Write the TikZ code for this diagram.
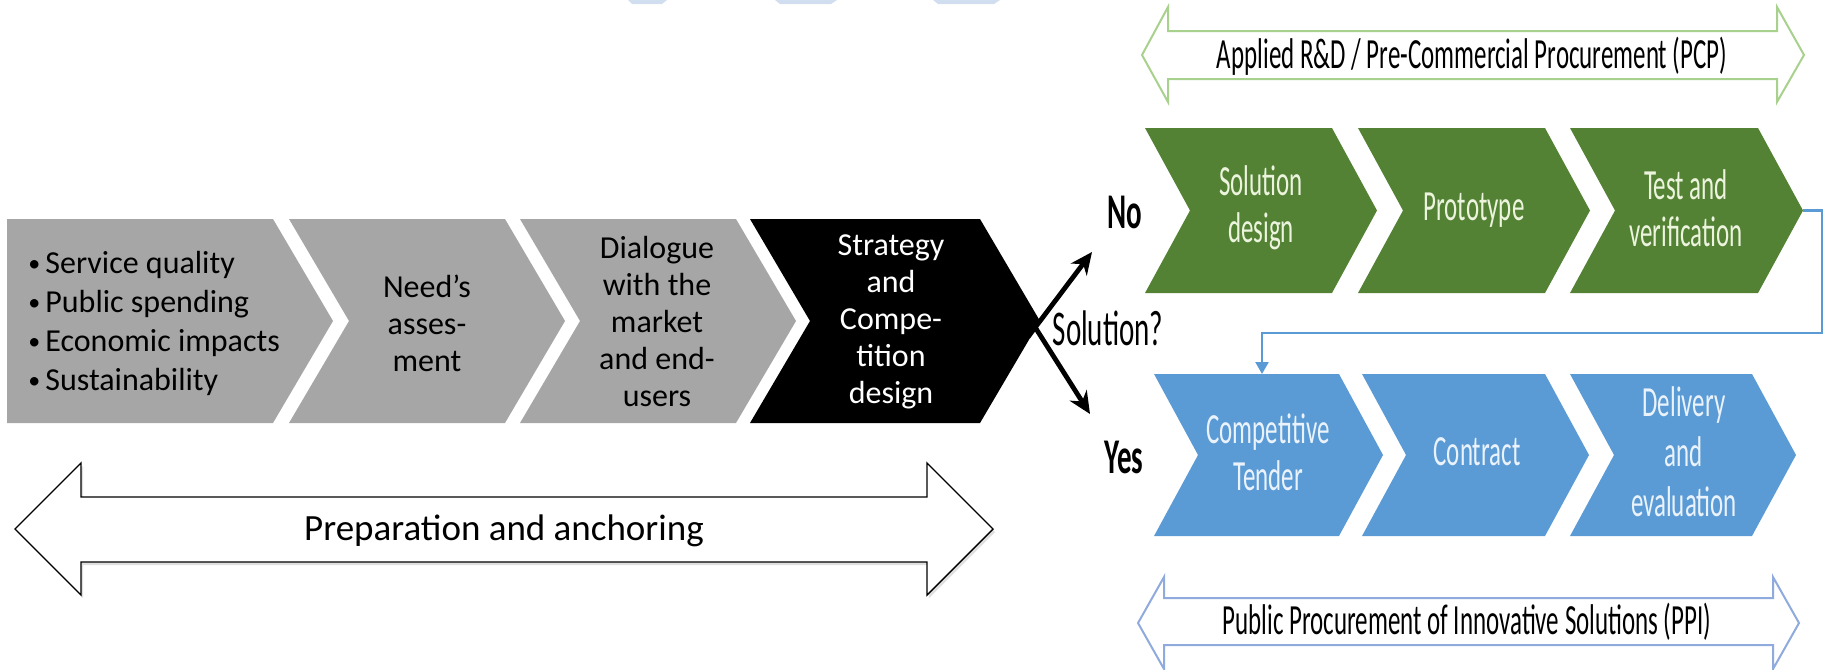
\documentclass[tikz,border=0pt]{standalone}
\usepackage{fontspec}
\setmainfont{Carlito}
\newfontfamily\narrowfont[FakeStretch=0.58]{Carlito}
\usepackage{tikz}
\usetikzlibrary{arrows.meta, shadows}

\definecolor{chevgrey}{RGB}{166,166,166}
\definecolor{pcpgreen}{RGB}{84,130,53}
\definecolor{ppiblue}{RGB}{91,155,213}
\definecolor{pcpline}{RGB}{169,209,142}
\definecolor{ppiline}{RGB}{143,170,220}
\definecolor{greentext}{RGB}{236,244,222}
\definecolor{bluetext}{RGB}{234,242,251}
\definecolor{topmark}{RGB}{208,222,239}

\newcommand{\listdot}{\makebox[8.5pt][l]{\raisebox{1pt}{\fontsize{12}{12}\selectfont\textbullet}}}

\begin{document}
\begin{tikzpicture}[x=.5pt, y=-.5pt,
  lefttext/.style={align=center, inner sep=0pt, font=\fontsize{16}{18.5}\selectfont},
  righttext/.style={align=center, inner sep=0pt, font=\narrowfont\fontsize{21.5}{23.5}\selectfont},
  answer/.style={inner sep=0pt, font=\narrowfont\bfseries\fontsize{25}{28}\selectfont},
  banner/.style={fill=white, line join=miter},
  decision/.style={line width=2.4pt, -{Stealth[length=11pt, width=10pt]}}]
\useasboundingbox (0,0) rectangle (1825,669);

\fill[topmark] (628,0) -- (667,0) -- (662,4) -- (632,4) -- cycle;
\fill[topmark] (775,0) -- (837,0) -- (831,4) -- (780,4) -- cycle;
\fill[topmark] (933,0) -- (1000,0) -- (994,4) -- (938,4) -- cycle;

\fill[chevgrey] (7,219) -- (273,219) -- (333,321) -- (273,423) -- (7,423) -- cycle;
\foreach \l/\r/\c in {289/505/chevgrey, 520/736/chevgrey, 750/980/black}
  \fill[\c] (\l,219) -- (\r,219) -- ({\r+60},321) -- (\r,423) -- (\l,423) -- ({\l+60},321) -- cycle;

\foreach \l/\r in {1145/1332, 1358/1545, 1570/1758}
  \fill[pcpgreen] (\l,128) -- (\r,128) -- ({\r+45},210.5) -- (\r,293) -- (\l,293) -- ({\l+45},210.5) -- cycle;
\foreach \l/\r in {1154/1339, 1362/1545, 1570/1752}
  \fill[ppiblue] (\l,374) -- (\r,374) -- ({\r+44},455) -- (\r,536) -- (\l,536) -- ({\l+44},455) -- cycle;

\node[lefttext, anchor=west, align=left, font=\fontsize{16}{19.5}\selectfont] (drivers) at (28,323)
  {\listdot Service quality\\
   \listdot Public spending\\
   \listdot Economic impacts\\
   \listdot Sustainability};
\node[lefttext] (needs) at (427,323) {Need's\\asses-\\ment};
\node[lefttext] (dialogue) at (657,322) {Dialogue\\with the\\market\\and end-\\users};
\node[lefttext, text=white] (strategy) at (891,322) {Strategy\\and\\Compe-\\tition\\design};

\node[righttext, text=greentext] (soldesign) at (1261,208) {Solution\\design};
\node[righttext, text=greentext] (prototype) at (1474,210) {Prototype};
\node[righttext, text=greentext] (testver) at (1686,208) {Test and\\verification};
\node[righttext, text=bluetext] (tender) at (1268,452) {Competitive\\Tender};
\node[righttext, text=bluetext] (contract) at (1477,452) {Contract};
\node[righttext, text=bluetext, font=\narrowfont\fontsize{21.5}{25}\selectfont] (delivery) at (1684,452) {Delivery\\and\\evaluation};

\node[answer] (no) at (1125,212) {No};
\node[answer] (yes) at (1124,457) {Yes};
\node[answer, font=\narrowfont\fontsize{25}{28}\selectfont] (question) at (1108,328) {Solution?};

\coordinate (up tail) at (1028,337);
\coordinate (down tail) at (1028,316);
\coordinate (no end) at (1092,252);
\coordinate (yes end) at (1090,414);
\draw[decision] (up tail) -- (no end);
\draw[decision] (down tail) -- (yes end);

\coordinate (tv tip) at (1803,210.5);
\coordinate (ct top) at (1262,374);
\draw[ppiblue, line width=1.2pt, -{Triangle[length=6pt, width=6.5pt]}]
  (tv tip) -| (1822,333) -| (ct top);

\draw[banner, draw=black, line width=.7pt, drop shadow={opacity=.25, shadow xshift=1pt, shadow yshift=-1.5pt}]
  (15,529) -- (81,463) -- (81,497) -- (927,497) -- (927,463) -- (993,529)
  -- (927,595) -- (927,562) -- (81,562) -- (81,595) -- cycle;
\node[font=\fontsize{18.5}{22}\selectfont] (prep) at (504,531) {Preparation and anchoring};

\draw[banner, draw=pcpline, line width=1pt]
  (1142,55) -- (1168,7) -- (1168,31) -- (1777,31) -- (1777,7) -- (1804,55)
  -- (1777,102) -- (1777,79) -- (1168,79) -- (1168,102) -- cycle;
\node[righttext] (pcp) at (1472,56) {Applied R\&D / Pre-Commercial Procurement (PCP)};

\draw[banner, draw=ppiline, line width=1pt]
  (1138,623) -- (1164,577) -- (1164,598) -- (1773,598) -- (1773,577) -- (1799,623)
  -- (1773,669) -- (1773,645) -- (1164,645) -- (1164,669) -- cycle;
\node[righttext] (ppi) at (1467,622) {Public Procurement of Innovative Solutions (PPI)};
\end{tikzpicture}
\end{document}
